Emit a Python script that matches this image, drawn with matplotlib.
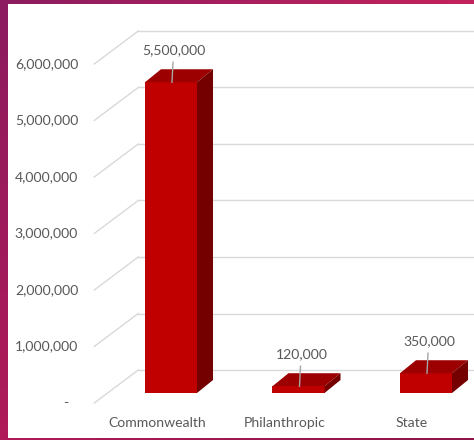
import matplotlib
matplotlib.use('Agg')
import matplotlib.pyplot as plt
from matplotlib.patches import Polygon, Rectangle
import numpy as np

# funding by source
categories = ['Commonwealth', 'Philanthropic', 'State']
amounts = [5500000, 120000, 350000]
value_labels = ['5,500,000', '120,000', '350,000']
y_ticks = [0, 1000000, 2000000, 3000000, 4000000, 5000000, 6000000]
y_tick_labels = ['-', '1,000,000', '2,000,000', '3,000,000', '4,000,000', '5,000,000', '6,000,000']

W, H = 474, 440
fig = plt.figure(figsize=(W / 100, H / 100), dpi=100)

# magenta backdrop behind the chart panel
bg = fig.add_axes([0, 0, 1, 1])
bg.axis('off')
tl = np.array([140, 28, 96]) / 255
tr = np.array([196, 34, 92]) / 255
bl = np.array([176, 26, 88]) / 255
br = np.array([140, 22, 72]) / 255
u = np.linspace(0, 1, 60)[None, :, None]
v = np.linspace(0, 1, 60)[:, None, None]
grad = (1 - v) * ((1 - u) * tl + u * tr) + v * ((1 - u) * bl + u * br)
bg.imshow(grad, extent=[0, 1, 0, 1], aspect='auto', interpolation='bilinear')
bg.set_xlim(0, 1)
bg.set_ylim(0, 1)
bg.add_patch(Rectangle((8 / W, 2 / H), 466 / W, 434 / H, facecolor='white', edgecolor='none'))

# front plane of the bars
ax = fig.add_axes([107.25 / W, 47 / H, 382.5 / W, 339 / H])
ax.set_xlim(-0.5, 2.5)
ax.set_ylim(0, 6000000)
ax.axis('off')
ax.patch.set_alpha(0)


def shift(x, y, dx, dy):
    # move a data point by a screen offset in pixels
    px, py = ax.transData.transform((x, y))
    return ax.transData.inverted().transform((px + dx, py + dy))


back = (31, 23)     # back wall
front = (-13, -10)  # floor front edge
depth = (16, 13)    # bar depth
grid_c = '#d9d9d9'
text_c = '#595959'
font = dict(family='Lato', size=10.1, color=text_c)

# gridlines on the back wall and the side wall
x0 = ax.get_xlim()[0]
for val, lab in zip(y_ticks, y_tick_labels):
    b0 = shift(x0, val, *back)
    b1 = shift(3.2, val, *back)
    f0 = shift(x0, val, *front)
    ax.plot([b0[0], b1[0]], [b0[1], b1[1]], color=grid_c, lw=1, clip_on=False, zorder=1)
    ax.plot([f0[0], b0[0]], [f0[1], b0[1]], color=grid_c, lw=1, clip_on=False, zorder=1)
    pad = -16 if val else -26
    t = shift(x0, val, front[0] + pad, front[1])
    ax.text(t[0], t[1], lab, ha='right', va='center', **font)

# 3D bars
w = 0.408
for i, (cat, amt, lab) in enumerate(zip(categories, amounts, value_labels)):
    xl, xr = i - w / 2, i + w / 2
    ax.add_patch(Rectangle((xl, 0), w, amt, facecolor='#c00000', edgecolor='none',
                           zorder=3, clip_on=False))
    top = [(xl, amt), (xr, amt), shift(xr, amt, *depth), shift(xl, amt, *depth)]
    ax.add_patch(Polygon(top, closed=True, facecolor='#9c0000', edgecolor='none',
                         zorder=3, clip_on=False))
    side = [(xr, 0), (xr, amt), shift(xr, amt, *depth), shift(xr, 0, *depth)]
    ax.add_patch(Polygon(side, closed=True, facecolor='#740000', edgecolor='none',
                         zorder=3, clip_on=False))

    # value label with leader line
    p = shift(i, amt, 3, 32)
    ax.text(p[0], p[1], lab, ha='center', va='center', zorder=5, **font)
    l0 = shift(i, amt, 2, 20)
    l1 = shift(i, amt, 1, 0)
    ax.plot([l0[0], l1[0]], [l0[1], l1[1]], color='#a6a6a6', lw=1, zorder=4, clip_on=False)

    # category label
    c = shift(i, 0, -14, -30)
    ax.text(c[0], c[1], cat, ha='center', va='center', **font)

fig.savefig('out.png', dpi=100)
